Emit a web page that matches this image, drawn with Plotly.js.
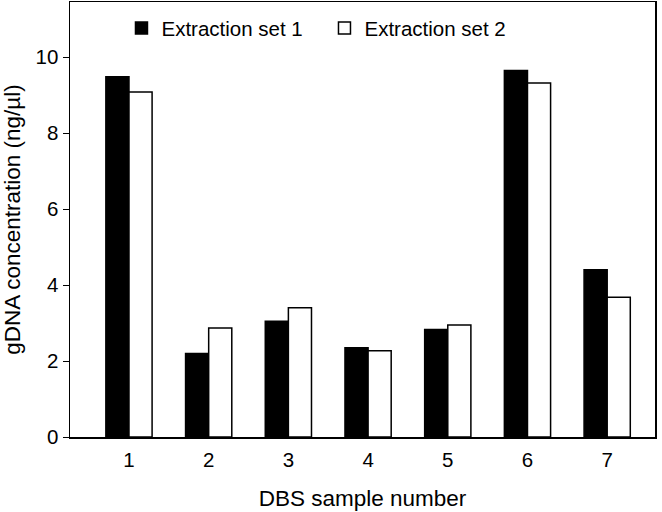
<!DOCTYPE html>
<html>
<head>
<meta charset="utf-8">
<script src="https://cdn.plot.ly/plotly-3.0.1.min.js"></script>
<style>
  body { margin: 0; background: #fff; }
  #chart { width: 662px; height: 512px; }
</style>
</head>
<body>
<div id="chart"></div>
<script>
// sample numbers on the x axis
var samples = [1, 2, 3, 4, 5, 6, 7];

// gDNA concentration (ng/ul) for each extraction set
var set1 = [9.48, 2.2, 3.05, 2.35, 2.83, 9.65, 4.4];
var set2 = [9.08, 2.87, 3.4, 2.27, 2.95, 9.32, 3.68];

var seriesNames = ["Extraction set 1", "Extraction set 2"];

var font = "Liberation Sans, Arial, Helvetica, sans-serif";

// black bars for the first set, white bars with a black outline for the second
var trace1 = {
    x: samples,
    y: set1,
    name: seriesNames[0],
    type: 'bar',
    marker: { color: '#000', line: { color: '#000', width: 1.5 } }
};

var trace2 = {
    x: samples,
    y: set2,
    name: seriesNames[1],
    type: 'bar',
    marker: { color: '#fff', line: { color: '#000', width: 1.5 } }
};

var layout = {
    width: 662,
    height: 512,
    margin: { l: 70, r: 7, t: 2, b: 75 },
    paper_bgcolor: '#fff',
    plot_bgcolor: '#fff',
    font: { family: font, size: 20.5, color: '#000' },
    barmode: 'group',
    bargap: 0.42,
    bargroupgap: 0,
    showlegend: true,
    legend: {
        orientation: 'h',
        x: 0.088,
        xanchor: 'left',
        y: 0.94,
        yanchor: 'middle',
        entrywidth: 158,
        entrywidthmode: 'pixels',
        font: { family: font, size: 20.5, color: '#000' },
        bgcolor: 'rgba(0,0,0,0)'
    },
    xaxis: {
        range: [0.26, 7.6],
        tickvals: samples,
        ticktext: samples.map(String),
        ticks: '',
        ticklabelstandoff: 4,
        showgrid: false,
        zeroline: false,
        showline: true,
        linecolor: '#000',
        linewidth: 1.5,
        mirror: true,
        tickfont: { size: 20.5 },
        title: { text: 'DBS sample number', font: { size: 22.5 }, standoff: 20 }
    },
    yaxis: {
        range: [0, 11.45],
        tickvals: [0, 2, 4, 6, 8, 10],
        ticks: 'outside',
        ticklen: 6,
        tickcolor: '#000',
        showgrid: false,
        zeroline: false,
        showline: true,
        linecolor: '#000',
        linewidth: 1.5,
        mirror: true,
        tickfont: { size: 20.5 },
        title: { text: 'gDNA concentration (ng/µl)', font: { size: 22.5 }, standoff: 10 }
    }
};

Plotly.newPlot('chart', [trace1, trace2], layout, { displayModeBar: false, staticPlot: true });
</script>
</body>
</html>
